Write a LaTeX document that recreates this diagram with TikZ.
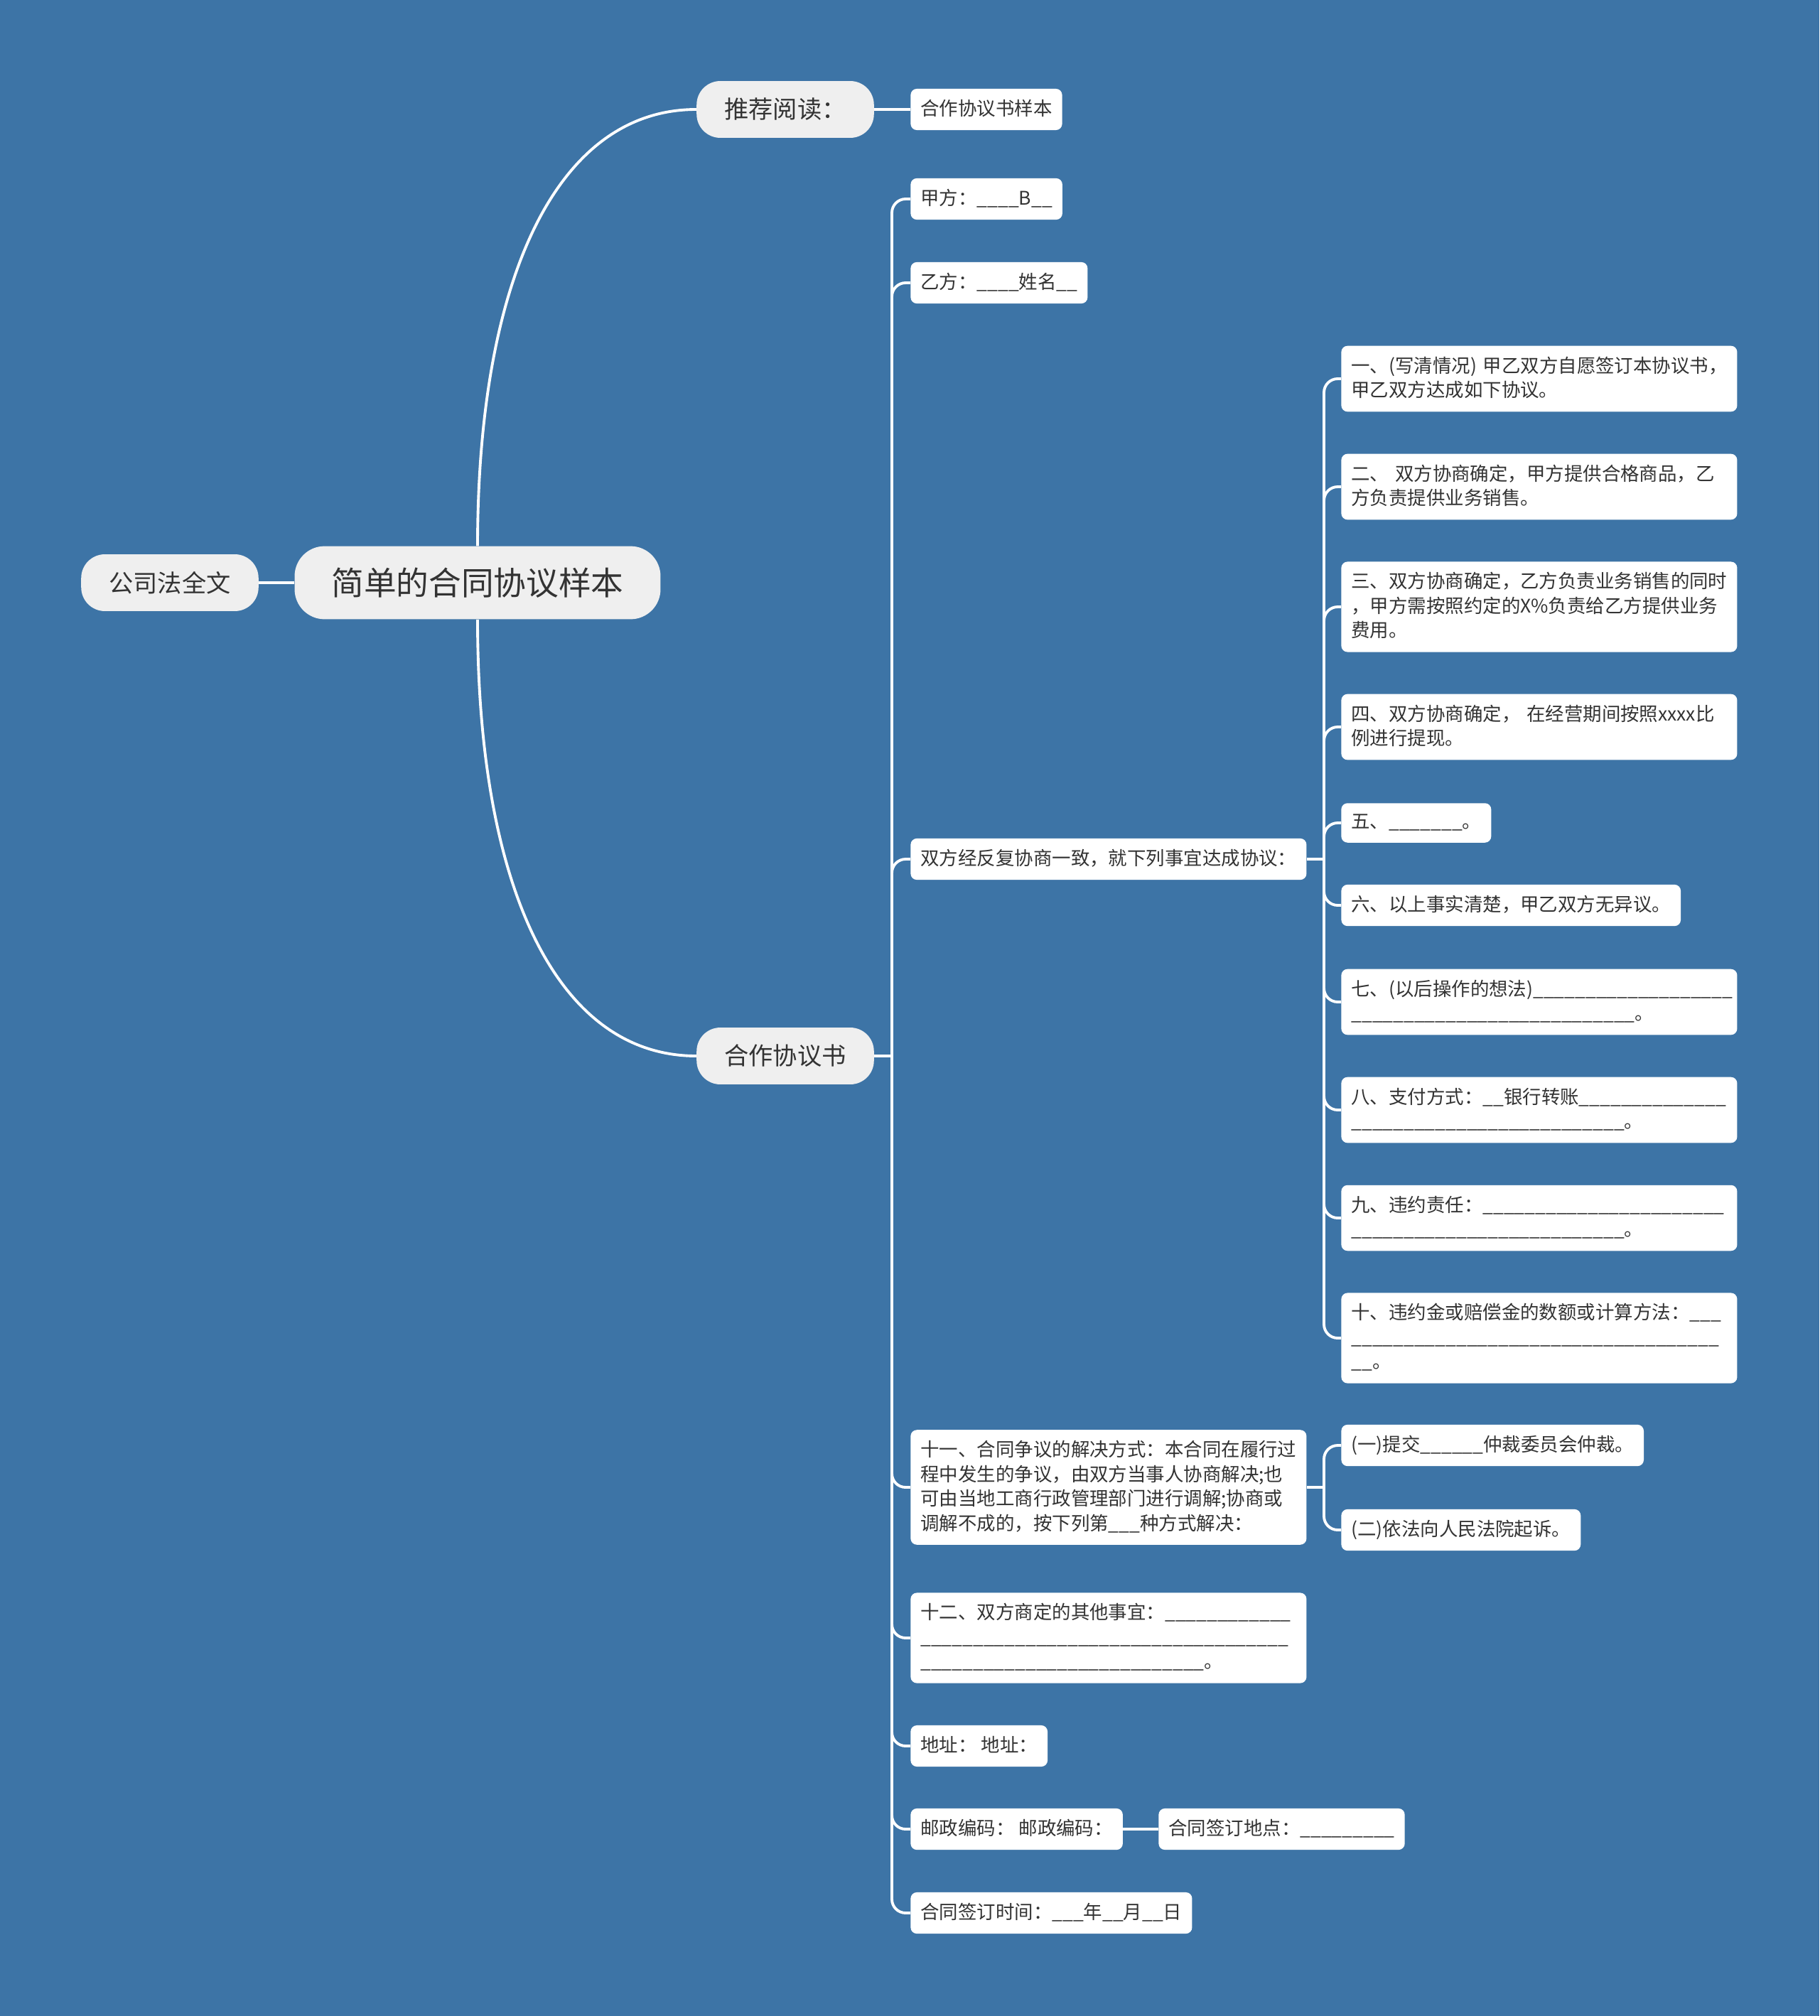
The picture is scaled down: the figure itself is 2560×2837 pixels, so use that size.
\documentclass[tikz,border=0pt]{standalone}
\usepackage{fontspec}
\setmainfont{Noto Sans CJK SC}
\usetikzlibrary{positioning}

\definecolor{bgblue}{HTML}{3D74A6}
\definecolor{ink}{HTML}{333333}
\definecolor{pale}{HTML}{EFEFEF}

\newcommand{\blanks}[1]{\foreach \k in {1,...,#1}{\_}}
\newcommand{\lstrut}{\rule[-3.2pt]{0pt}{12.6pt}}

\begin{document}
\begin{tikzpicture}[x=0.2mm, y=-0.2mm,
    link/.style={draw=white, line width=2.2pt},
    rootbox/.style={fill=pale, text=ink, rounded corners=24pt, minimum width=293pt, minimum height=58.5pt, font=\fontsize{26}{30}\selectfont},
    mainbox/.style={fill=pale, text=ink, rounded corners=19pt, minimum width=142pt, minimum height=45.5pt, font=\fontsize{19.5}{24}\selectfont},
    leaf/.style={fill=white, text=ink, rounded corners=5pt, anchor=west, align=left, inner xsep=8pt, inner ysep=8.6pt, font=\fontsize{15.05}{19.6}\selectfont, execute at begin node=\lstrut, execute at end node=\lstrut},
    wideleaf/.style={leaf, text width=301pt}]

    \useasboundingbox (0, 0) rectangle (2560, 2837);
    \fill[bgblue] (0, 0) rectangle (2560, 2837);

    \node[rootbox] (root) at (672, 820) {简单的合同协议样本};
    \node[mainbox] (law) at (239, 820) {公司法全文};
    \node[mainbox] (read) at (1105, 154) {推荐阅读：};
    \node[mainbox] (book) at (1105, 1486) {合作协议书};

    \node[leaf] (sample) at (1281, 154) {合作协议书样本};

    \node[leaf] (jia) at (1281, 280) {甲方：\blanks{4}B\blanks{2}};
    \node[leaf] (yi) at (1281, 398) {乙方：\blanks{4}姓名\blanks{2}};
    \node[leaf] (agree) at (1281, 1209) {双方经反复协商一致，就下列事宜达成协议：};
    \node[wideleaf] (eleven) at (1281, 2093) {十一、合同争议的解决方式：本合同在履行过\\程中发生的争议，由双方当事人协商解决;也\\可由当地工商行政管理部门进行调解;协商或\\调解不成的，按下列第\blanks{3}种方式解决：};
    \node[wideleaf] (twelve) at (1281, 2305) {十二、双方商定的其他事宜：\blanks{12}\\\blanks{35}\\\blanks{27}。};
    \node[leaf] (addr) at (1281, 2457) {地址：~地址：};
    \node[leaf] (post) at (1281, 2574) {邮政编码：~邮政编码：};
    \node[leaf] (place) at (1630, 2574) {合同签订地点：\blanks{9}};
    \node[leaf] (time) at (1281, 2692) {合同签订时间：\blanks{3}年\blanks{2}月\blanks{2}日};

    % terms of the agreement
    \node[wideleaf] (t1) at (1887, 533) {一、(写清情况)~甲乙双方自愿签订本协议书，\\甲乙双方达成如下协议。};
    \node[wideleaf] (t2) at (1887, 685) {二、~双方协商确定，甲方提供合格商品，乙\\方负责提供业务销售。};
    \node[wideleaf] (t3) at (1887, 854) {三、双方协商确定，乙方负责业务销售的同时\\，甲方需按照约定的X\%负责给乙方提供业务\\费用。};
    \node[wideleaf] (t4) at (1887, 1023) {四、双方协商确定，~在经营期间按照xxxx比\\例进行提现。};
    \node[leaf] (t5) at (1887, 1158) {五、\blanks{7}。};
    \node[leaf] (t6) at (1887, 1274) {六、以上事实清楚，甲乙双方无异议。};
    \node[wideleaf] (t7) at (1887, 1410) {七、(以后操作的想法)\blanks{19}\\\blanks{27}。};
    \node[wideleaf] (t8) at (1887, 1562) {八、支付方式：\blanks{2}银行转账\blanks{14}\\\blanks{26}。};
    \node[wideleaf] (t9) at (1887, 1714) {九、违约责任：\blanks{23}\\\blanks{26}。};
    \node[wideleaf] (t10) at (1887, 1883) {十、违约金或赔偿金的数额或计算方法：\blanks{3}\\\blanks{35}\\\blanks{2}。};

    \node[leaf] (way1) at (1887, 2034) {(一)提交\blanks{6}仲裁委员会仲裁。};
    \node[leaf] (way2) at (1887, 2153) {(二)依法向人民法院起诉。};

    \coordinate (bookbus) at (1255, 1486);
    \coordinate (agreebus) at (1863, 1209);
    \coordinate (elevenbus) at (1863, 2093);

    \draw[link] (law) -- (root);
    \draw[link] (root.north) .. controls (672, 400) and (780, 154) .. (read.west);
    \draw[link] (root.south) .. controls (672, 1241) and (780, 1486) .. (book.west);
    \draw[link] (read) -- (sample);
    \draw[link] (post) -- (place);

    \draw[link] (book.east) -- (bookbus);
    \foreach \n in {jia, yi, agree, eleven, twelve, addr, post, time} {
        \draw[link, rounded corners=11pt] (bookbus) |- (\n.west);
    }

    \draw[link] (agree.east) -- (agreebus);
    \foreach \n in {1,...,10} {
        \draw[link, rounded corners=11pt] (agreebus) |- (t\n.west);
    }

    \draw[link] (eleven.east) -- (elevenbus);
    \foreach \n in {way1, way2} {
        \draw[link, rounded corners=11pt] (elevenbus) |- (\n.west);
    }
\end{tikzpicture}
\end{document}
